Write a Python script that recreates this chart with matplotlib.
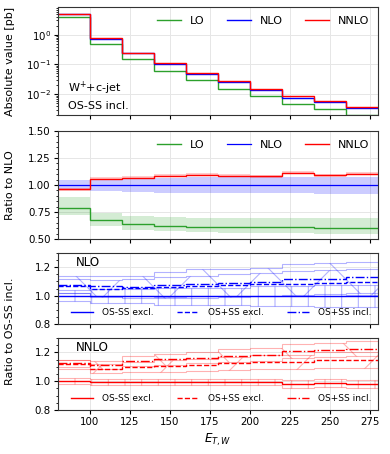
import numpy as np
import matplotlib
matplotlib.use('Agg')
import matplotlib.pyplot as plt
from matplotlib.ticker import AutoMinorLocator

# bins in E_T,W
edges = [80, 100, 120, 140, 160, 180, 200, 220, 240, 260, 280]

# absolute NLO cross section per bin [pb]
nlo_abs = [5.1, 0.74, 0.235, 0.100, 0.048, 0.025, 0.0139, 0.0077, 0.0053, 0.0034]

# ratios to NLO
r_lo = [0.79, 0.677, 0.639, 0.624, 0.614, 0.611, 0.608, 0.608, 0.600, 0.598]
r_lo_up = [0.885, 0.74, 0.71, 0.70, 0.695, 0.695, 0.695, 0.695, 0.69, 0.69]
r_lo_dn = [0.725, 0.62, 0.585, 0.57, 0.565, 0.56, 0.555, 0.555, 0.55, 0.55]
r_nlo_up = [1.05, 1.06, 1.06, 1.065, 1.07, 1.07, 1.07, 1.075, 1.075, 1.075]
r_nlo_dn = [0.95, 0.94, 0.935, 0.93, 0.93, 0.925, 0.925, 0.925, 0.92, 0.92]
r_nnlo = [0.962, 1.057, 1.066, 1.085, 1.095, 1.085, 1.082, 1.115, 1.092, 1.104]
r_nnlo_up = [0.975, 1.07, 1.08, 1.10, 1.11, 1.10, 1.095, 1.128, 1.105, 1.118]
r_nnlo_dn = [0.948, 1.045, 1.052, 1.07, 1.08, 1.07, 1.068, 1.10, 1.078, 1.09]

# ratios to OS-SS incl., NLO
nlo_excl = [1.0, 0.997, 0.997, 0.997, 0.997, 0.997, 0.998, 0.998, 0.998, 0.998]
nlo_excl_err = [0.04, 0.05, 0.05, 0.06, 0.06, 0.06, 0.07, 0.07, 0.08, 0.08]
nlo_ospss_excl = [1.065, 1.05, 1.055, 1.06, 1.07, 1.075, 1.08, 1.085, 1.09, 1.095]
nlo_ospss_excl_err = [0.05, 0.06, 0.06, 0.07, 0.07, 0.08, 0.08, 0.09, 0.09, 0.09]
nlo_ospss_incl = [1.075, 1.065, 1.06, 1.075, 1.085, 1.09, 1.095, 1.115, 1.12, 1.13]
nlo_ospss_incl_err = [0.06, 0.07, 0.08, 0.09, 0.10, 0.10, 0.10, 0.11, 0.11, 0.11]

# ratios to OS-SS incl., NNLO
nnlo_excl = [1.0, 0.993, 0.993, 0.993, 0.993, 0.993, 0.993, 0.98, 0.988, 0.981]
nnlo_excl_err = [0.02, 0.02, 0.02, 0.02, 0.02, 0.02, 0.02, 0.025, 0.025, 0.025]
nnlo_ospss_excl = [1.116, 1.088, 1.098, 1.107, 1.112, 1.123, 1.135, 1.135, 1.147, 1.147]
nnlo_ospss_excl_err = [0.03, 0.03, 0.035, 0.04, 0.04, 0.045, 0.05, 0.05, 0.055, 0.055]
nnlo_ospss_incl = [1.123, 1.112, 1.14, 1.151, 1.163, 1.177, 1.184, 1.209, 1.216, 1.226]
nnlo_ospss_incl_err = [0.025, 0.03, 0.035, 0.04, 0.04, 0.045, 0.045, 0.05, 0.05, 0.05]

xticks = [100, 125, 150, 175, 200, 225, 250, 275]

plt.rcParams['font.size'] = 4
plt.rcParams['xtick.labelsize'] = 3.7
plt.rcParams['ytick.labelsize'] = 3.7
plt.rcParams['axes.linewidth'] = 0.4
plt.rcParams['xtick.major.width'] = 0.4
plt.rcParams['ytick.major.width'] = 0.4
plt.rcParams['xtick.minor.width'] = 0.3
plt.rcParams['ytick.minor.width'] = 0.3
plt.rcParams['xtick.major.size'] = 1.3
plt.rcParams['ytick.major.size'] = 1.3
plt.rcParams['xtick.minor.size'] = 0.8
plt.rcParams['ytick.minor.size'] = 0.8
plt.rcParams['xtick.major.pad'] = 1.3
plt.rcParams['ytick.major.pad'] = 1.3
plt.rcParams['hatch.linewidth'] = 0.4
plt.rcParams['axes.edgecolor'] = '#333333'

green = '#2ca02c'
lw = 0.5

nlo_abs = np.array(nlo_abs)
lo_abs = nlo_abs * np.array(r_lo)
nnlo_abs = nlo_abs * np.array(r_nnlo)

fig = plt.figure(figsize=(1.95, 2.27), dpi=200)
W, H = 390, 454
def box(top, bottom):
    return [58 / W, 1 - bottom / H, 320 / W, (bottom - top) / H]

ax1 = fig.add_axes(box(7, 115))
ax2 = fig.add_axes(box(131, 239))
ax3 = fig.add_axes(box(253, 324))
ax4 = fig.add_axes(box(338, 410))

for ax in [ax1, ax2, ax3, ax4]:
    ax.set_xlim(80, 280)
    ax.set_xticks(xticks)
    ax.grid(True, color='#e6e6e6', linewidth=0.35)
    ax.set_axisbelow(True)
for ax in [ax1, ax2, ax3]:
    ax.set_xticklabels([])

leg_top = dict(loc='upper right', ncol=3, frameon=False, handlelength=2.15,
               columnspacing=2.0, handletextpad=0.8, borderaxespad=0.4)

# top panel: absolute values
ax1.stairs(lo_abs, edges, baseline=None, color=green, lw=lw, label='LO')
ax1.stairs(nlo_abs, edges, baseline=None, color='blue', lw=lw, label='NLO')
ax1.stairs(nnlo_abs, edges, baseline=None, color='red', lw=lw, label='NNLO')
ax1.set_yscale('log')
ax1.set_ylim(2e-3, 8.5)
ax1.legend(**leg_top)
ax1.text(0.03, 0.04, 'W$^{+}$+c-jet\nOS-SS incl.', transform=ax1.transAxes,
         ha='left', va='bottom', linespacing=1.5)

# ratio to NLO
ax2.stairs(r_lo_up, edges, baseline=r_lo_dn, fill=True, color=green, alpha=0.2, lw=0)
ax2.stairs(r_nlo_up, edges, baseline=r_nlo_dn, fill=True, color='blue', alpha=0.2, lw=0)
ax2.stairs(r_nnlo_up, edges, baseline=r_nnlo_dn, fill=True, color='red', alpha=0.2, lw=0)
ax2.stairs(r_lo, edges, baseline=None, color=green, lw=lw, label='LO')
ax2.stairs([1.0] * 10, edges, baseline=None, color='blue', lw=0.45, label='NLO')
ax2.stairs(r_nnlo, edges, baseline=None, color='red', lw=lw, label='NNLO')
ax2.set_ylim(0.5, 1.5)
ax2.set_yticks([0.5, 0.75, 1.0, 1.25, 1.5])
ax2.yaxis.set_minor_locator(AutoMinorLocator(5))
ax2.legend(**leg_top)


def os_panel(ax, col, c1, e1, c2, e2, c3, e3, name):
    c1, e1 = np.array(c1), np.array(e1)
    c2, e2 = np.array(c2), np.array(e2)
    c3, e3 = np.array(c3), np.array(e3)
    band = dict(fill=True, facecolor='none', lw=0.4)
    ec = matplotlib.colors.to_rgba(col, 0.3)
    ax.stairs(c1 + e1, edges, baseline=c1 - e1, edgecolor=ec, hatch='||', **band)
    ax.stairs(c2 + e2, edges, baseline=c2 - e2, edgecolor=ec, hatch='/', **band)
    ax.stairs(c3 + e3, edges, baseline=c3 - e3, edgecolor=ec, hatch='\\', **band)
    ax.stairs(c1, edges, baseline=None, color=col, lw=lw, ls='-', label='OS-SS excl.')
    ax.stairs(c2, edges, baseline=None, color=col, lw=lw, ls='--', label='OS+SS excl.')
    ax.stairs(c3, edges, baseline=None, color=col, lw=lw, ls='-.', label='OS+SS incl.')
    ax.set_ylim(0.8, 1.3)
    ax.set_yticks([0.8, 1.0, 1.2])
    ax.yaxis.set_minor_locator(AutoMinorLocator(4))
    ax.text(0.055, 0.87, name, transform=ax.transAxes, ha='left', va='center',
            fontsize=4.3)
    ax.legend(loc='lower center', ncol=3, frameon=False, fontsize=3.25,
              handlelength=2.5, columnspacing=2.5, handletextpad=1.0,
              borderaxespad=0.4, bbox_to_anchor=(0.51, 0.0))


os_panel(ax3, 'blue', nlo_excl, nlo_excl_err, nlo_ospss_excl, nlo_ospss_excl_err,
         nlo_ospss_incl, nlo_ospss_incl_err, 'NLO')
os_panel(ax4, 'red', nnlo_excl, nnlo_excl_err, nnlo_ospss_excl, nnlo_ospss_excl_err,
         nnlo_ospss_incl, nnlo_ospss_incl_err, 'NNLO')

ax4.set_xlabel('$E_{T,W}$', fontsize=4.3, labelpad=1.5)

fig.text(10 / W, 1 - 61 / H, 'Absolute value [pb]', rotation=90, ha='center', va='center')
fig.text(10 / W, 1 - 185 / H, 'Ratio to NLO', rotation=90, ha='center', va='center')
fig.text(10 / W, 1 - 331 / H, 'Ratio to OS-SS incl.', rotation=90, ha='center', va='center')

fig.savefig('out.png', dpi=200)
